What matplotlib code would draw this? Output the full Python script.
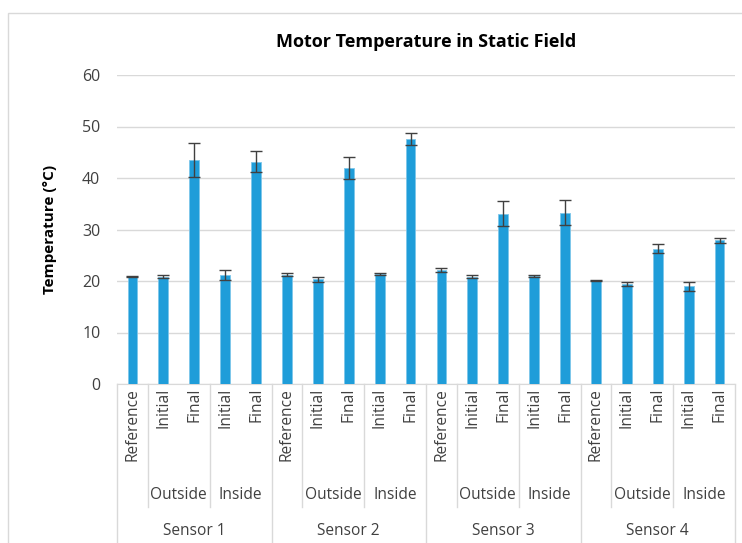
import matplotlib.pyplot as plt
from matplotlib.patches import Rectangle

plt.rcParams['font.family'] = ['Open Sans', 'DejaVu Sans']

sensors = ["Sensor 1", "Sensor 2", "Sensor 3", "Sensor 4"]
groups = ["", "Outside", "Outside", "Inside", "Inside"]
conditions = ["Reference", "Initial", "Final", "Initial", "Final"]

temps = [
    20.8, 20.8, 43.4, 21.2, 43.2,
    21.2, 20.3, 42.0, 21.4, 47.6,
    22.1, 20.8, 33.1, 21.0, 33.3,
    20.1, 19.4, 26.3, 19.0, 27.9,
]
errors = [
    0.1, 0.3, 3.3, 1.0, 2.0,
    0.3, 0.5, 2.1, 0.2, 1.1,
    0.4, 0.3, 2.5, 0.15, 2.4,
    0.1, 0.4, 0.9, 0.9, 0.5,
]

labels = conditions * len(sensors)
x = list(range(len(temps)))

fig = plt.figure(figsize=(7.42, 5.43), dpi=100)
fig.patches.append(Rectangle((8 / 742, -0.1), 1.2, 1.1 - 13 / 543, transform=fig.transFigure,
                             fill=False, edgecolor='#D9D9D9', linewidth=1))
ax = fig.add_axes([117 / 742, 1 - 384 / 543, 618 / 742, 309 / 543])

ax.bar(x, temps, width=0.32, color='#1F9DD9', edgecolor='#7DC6EA', linewidth=0.6, zorder=3)
ax.errorbar(x, temps, yerr=errors, fmt='none', ecolor='#404040', elinewidth=1,
            capsize=4, capthick=1, zorder=4)

ax.set_xlim(-0.5, len(temps) - 0.5)
ax.set_ylim(0, 60)
ax.set_yticks(range(0, 61, 10))
ax.tick_params(axis='y', length=0, labelsize=11.5, colors='#404040', pad=12)
ax.tick_params(axis='x', length=0)
ax.set_xticks([])
ax.grid(axis='y', color='#D9D9D9', linewidth=1, zorder=0)
for s in ['top', 'right', 'left']:
    ax.spines[s].set_visible(False)
ax.spines['bottom'].set_color('#D9D9D9')

ax.set_title("Motor Temperature in Static Field", fontsize=13, fontweight='bold', pad=20)
ax.set_ylabel("Temperature (°C)", fontsize=11, fontweight='bold', labelpad=18)

tr = ax.get_xaxis_transform()
for i, lab in enumerate(labels):
    ax.text(i, -0.013, lab, rotation=90, ha='center', va='top', fontsize=11.2,
            color='#404040', transform=tr)

# group and sensor separators / labels
for k, sensor in enumerate(sensors):
    base = k * 5
    ax.text(base + 2, -0.475, sensor, ha='center', va='center', fontsize=11.2,
            color='#404040', transform=tr)
    ax.text(base + 1.5, -0.36, "Outside", ha='center', va='center', fontsize=11.2,
            color='#404040', transform=tr)
    ax.text(base + 3.5, -0.36, "Inside", ha='center', va='center', fontsize=11.2,
            color='#404040', transform=tr)
    ax.plot([base - 0.5, base - 0.5], [0, -0.6], transform=tr, color='#D9D9D9',
            lw=1, clip_on=False)
    for b in (base + 0.5, base + 2.5):
        ax.plot([b, b], [0, -0.398], transform=tr, color='#D9D9D9', lw=1, clip_on=False)
ax.plot([19.5, 19.5], [0, -0.6], transform=tr, color='#D9D9D9', lw=1, clip_on=False)

fig.savefig("out.png", dpi=100)
